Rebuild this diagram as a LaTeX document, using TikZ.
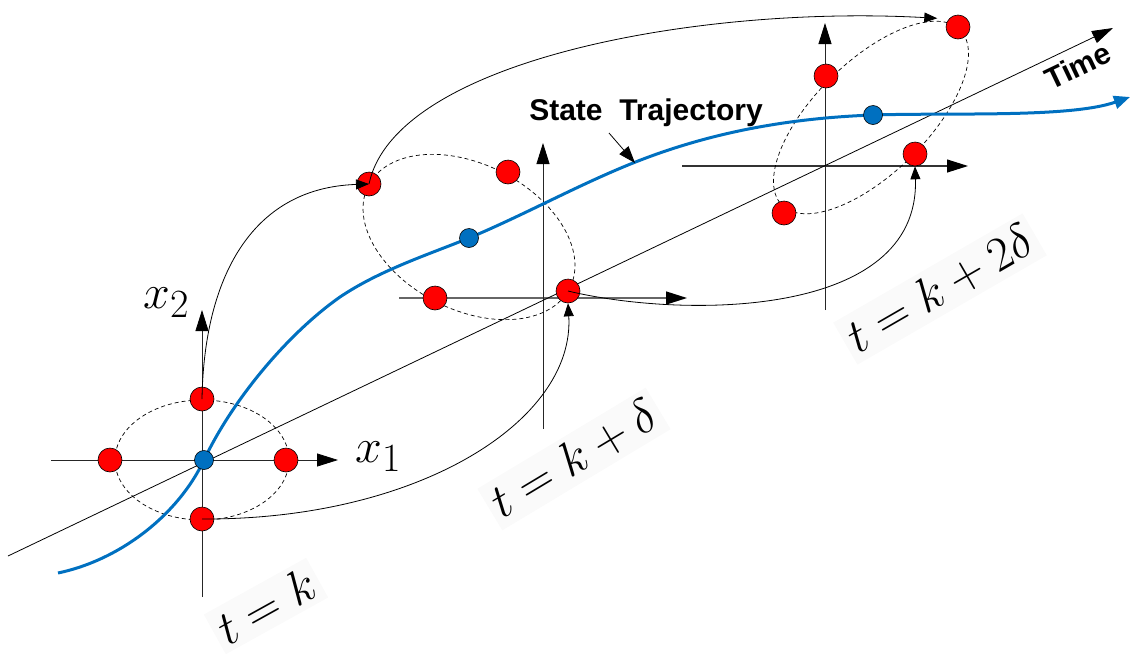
\documentclass[tikz,border=0pt]{standalone}
\usepackage{fontspec}
\newfontfamily\lsans{Liberation Sans}
\usetikzlibrary{arrows.meta}
\definecolor{trajblue}{RGB}{0,112,192}
\begin{document}
\begin{tikzpicture}[x=1pt,y=-1pt,
  axisline/.style={line width=0.8pt, draw=black!85, -{Triangle[length=21pt,width=13pt,color=black]}},
  timeline/.style={line width=0.8pt, -{Triangle[length=21pt,width=13pt]}},
  ell/.style={line width=0.7pt, dash pattern=on 4pt off 3pt},
  traj/.style={line width=3pt, draw=trajblue, -{Triangle[length=16pt,width=13pt]}},
  carrow/.style={line width=0.8pt, -{Triangle[length=13pt,width=10pt]}},
  pointer/.style={line width=0.8pt, -{Triangle[length=17pt,width=12pt]}},
  reddot/.style={circle, draw=black, line width=0.6pt, fill=red, minimum size=24pt, inner sep=0pt},
  bluedot/.style={circle, draw=black, line width=0.6pt, fill=trajblue, minimum size=19pt, inner sep=0pt},
  tlab/.style={fill=black!2, inner sep=3pt, scale=1.95, font=\fontsize{24.88}{30}\selectfont},
  xlab/.style={anchor=base west, inner sep=0pt, scale=1.93, font=\fontsize{24.88}{30}\selectfont},
  sanslab/.style={font=\lsans\bfseries\fontsize{30}{36}\selectfont}]
\useasboundingbox (0,0) rectangle (1130,654);

% axes of the three frames
\coordinate (f1l) at (51,460);  \coordinate (f1r) at (338,460);
\coordinate (f1b) at (202,597); \coordinate (f1t) at (202,310);
\coordinate (f2l) at (399,298); \coordinate (f2r) at (687,298);
\coordinate (f2b) at (543,429); \coordinate (f2t) at (543,143);
\coordinate (f3l) at (682,166); \coordinate (f3r) at (968,166);
\coordinate (f3b) at (825,310); \coordinate (f3t) at (825,23);
\draw[axisline] (f1l) -- (f1r);
\draw[axisline] (f1b) -- (f1t);
\draw[axisline, draw=black!60, line width=1.4pt] (f2l) -- (f2r);
\draw[axisline] (f2b) -- (f2t);
\draw[axisline, draw=black!80, line width=1.1pt] (f3l) -- (f3r);
\draw[axisline] (f3b) -- (f3t);

% time axis
\coordinate (t0) at (8,556);
\coordinate (t1) at (1113,28);
\draw[timeline] (t0) -- (t1);

% dashed covariance ellipses
\draw[ell] (202,460) ellipse [x radius=87pt, y radius=60pt];
\draw[ell] plot[domain=0:360, samples=120, smooth]
  ({469-99.5*cos(\x)+36.5*sin(\x)}, {237-53.5*cos(\x)-63*sin(\x)}) -- cycle;
\draw[ell] plot[domain=0:360, samples=120, smooth]
  ({871+87*cos(\x)+44*sin(\x)}, {117.5-89.5*cos(\x)+35.5*sin(\x)}) -- cycle;

% state trajectory
\coordinate (s0) at (58,573);
\coordinate (s6) at (1130,97);
\draw[traj] (s0)
  .. controls (120,560) and (178,515) .. (204,460)
  .. controls (234,397) and (290,332) .. (340,297)
  .. controls (380,270) and (430,254) .. (469,238)
  .. controls (524,215) and (578,185) .. (633,163)
  .. controls (713,131) and (793,118) .. (873,115)
  .. controls (953,112.5) and (1070,118) .. (s6);

% label and pointer
\node[sanslab, anchor=base] (st) at (646,120) {State~~Trajectory};
\coordinate (p0) at (609,133);
\coordinate (p1) at (635,163);
\draw[pointer] (p0) -- (p1);

% sigma points
\node[reddot] (a1) at (110,460) {};
\node[reddot] (a2) at (286,460) {};
\node[reddot] (a3) at (202,399) {};
\node[reddot] (a4) at (202,519) {};
\node[bluedot] (am) at (204,460) {};

\node[reddot] (b1) at (369,184) {};
\node[reddot] (b2) at (508,172) {};
\node[reddot] (b3) at (435,298) {};
\node[reddot] (b4) at (568,291) {};
\node[bluedot] (bm) at (469,238) {};

\node[reddot] (c1) at (958,27) {};
\node[reddot] (c2) at (826,76) {};
\node[reddot] (c3) at (915,154) {};
\node[reddot] (c4) at (784,213) {};
\node[bluedot] (cm) at (873,115) {};

% propagation arrows
\draw[carrow] (a3.center) .. controls (204,280) and (250,188) .. (b1.center);
\draw[carrow] (a4.center) .. controls (420,520) and (575,420) .. (b4.south);
\draw[carrow] (b4.center) .. controls (680,318) and (920,320) .. (c3.south);
\draw[carrow] (b1.center) .. controls (395,60) and (700,5) .. ([xshift=-12pt]c1.north west);

% axis labels
\node[xlab] (x2) at (143,308) {$x_2$};
\node[xlab] (x1) at (355,462) {$x_1$};
\node[sanslab, rotate=25.5] (tm) at (1078,66) {Time};

% time labels
\node[tlab, rotate=29] (lk0) at (266,606) {$t=k$};
\node[tlab, rotate=31] (lk1) at (574,459) {$t=k+\delta$};
\node[tlab, rotate=30] (lk2) at (940,289) {$t=k+2\delta$};
\end{tikzpicture}
\end{document}
